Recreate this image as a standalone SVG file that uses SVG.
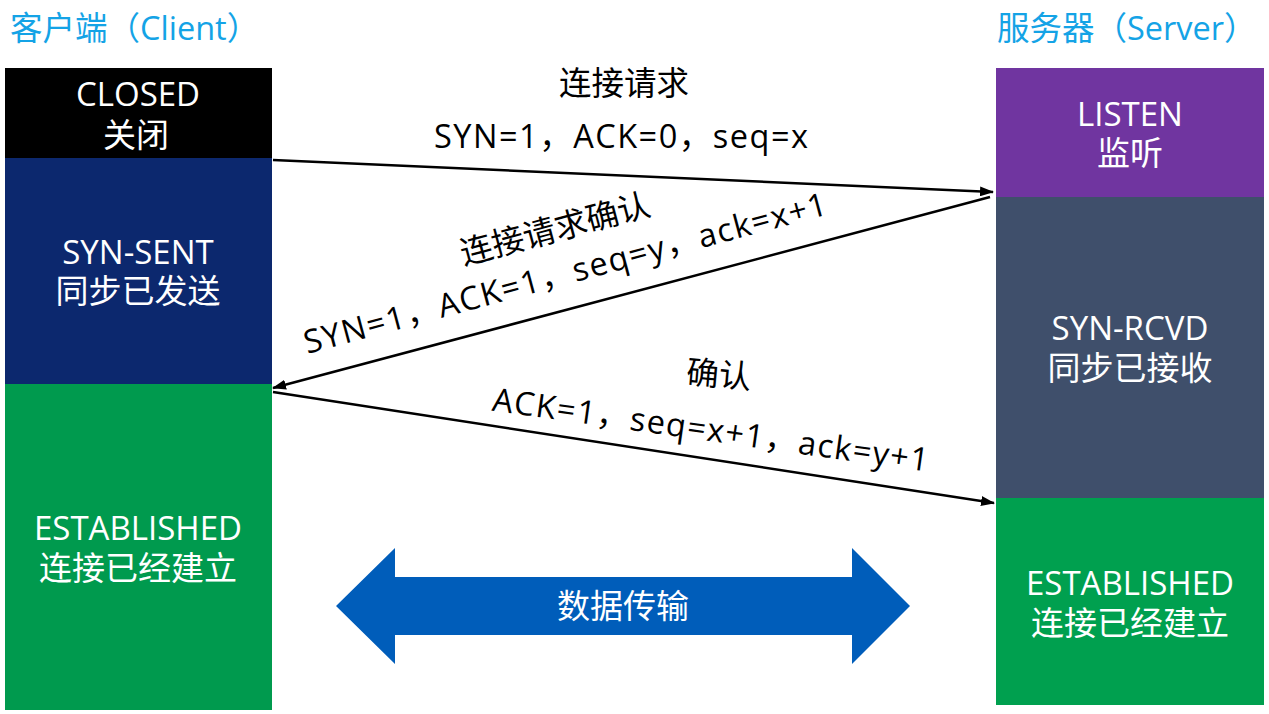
<svg xmlns="http://www.w3.org/2000/svg" width="1269" height="714" viewBox="0 0 1269 714">
<defs>
<style>
text{font-family:"Open Sans","Noto Sans CJK SC",sans-serif;}
.hdr{font-size:32.5px;fill:#14a3e6;}
.bt{font-size:33px;fill:#ffffff;text-anchor:middle;}
.lb{font-size:32.5px;fill:#000000;text-anchor:middle;}
.ln{stroke:#000;stroke-width:2.5;fill:none;}
</style>
<marker id="ah" viewBox="0 0 14 10" refX="13" refY="5" markerWidth="14" markerHeight="10" markerUnits="userSpaceOnUse" orient="auto">
<path d="M0,0 L14,5 L0,10 Z" fill="#000"/>
</marker>
</defs>
<rect width="1269" height="714" fill="#ffffff"/>
<g id="header-client"><text class="hdr" x="10" y="40">客户端（Client）</text></g>
<g id="header-server"><text class="hdr" x="997" y="40">服务器（Server）</text></g>

<g id="client-closed">
<rect x="5" y="68" width="267" height="90" fill="#000000"/>
<text class="bt" x="138" y="106">CLOSED</text>
<text class="bt" x="136" y="147">关闭</text>
</g>
<g id="client-synsent">
<rect x="5" y="158" width="267" height="226" fill="#0c286e"/>
<text class="bt" x="138" y="264">SYN-SENT</text>
<text class="bt" x="138" y="303">同步已发送</text>
</g>
<g id="client-established">
<rect x="5" y="384" width="267" height="326" fill="#009a4e"/>
<text class="bt" x="138" y="540">ESTABLISHED</text>
<text class="bt" x="138" y="580">连接已经建立</text>
</g>

<g id="server-listen">
<rect x="996" y="68" width="268" height="129" fill="#7035a0"/>
<text class="bt" x="1130" y="126">LISTEN</text>
<text class="bt" x="1130" y="165">监听</text>
</g>
<g id="server-synrcvd">
<rect x="996" y="197" width="268" height="301" fill="#3f4f6b"/>
<text class="bt" x="1130" y="340">SYN-RCVD</text>
<text class="bt" x="1130" y="380">同步已接收</text>
</g>
<g id="server-established">
<rect x="996" y="498" width="268" height="207" fill="#00a04f"/>
<text class="bt" x="1130" y="595">ESTABLISHED</text>
<text class="bt" x="1130" y="635">连接已经建立</text>
</g>

<g id="connectors">
<line class="ln" x1="273" y1="160" x2="993" y2="192" marker-end="url(#ah)"/>
<line class="ln" x1="990" y1="197" x2="273" y2="388" marker-end="url(#ah)"/>
<line class="ln" x1="273" y1="392" x2="994" y2="503" marker-end="url(#ah)"/>
<text class="lb" x="624" y="95">连接请求</text>
<text class="lb" x="621" y="148" textLength="374">SYN=1，ACK=0，seq=x</text>
<text class="lb" x="558" y="240" transform="rotate(-15 558 240)">连接请求确认</text>
<text class="lb" x="568" y="284" transform="rotate(-15 568 284)" textLength="540">SYN=1，ACK=1，seq=y，ack=x+1</text>
<text class="lb" x="718" y="386" transform="rotate(5 718 386)">确认</text>
<text class="lb" x="709" y="441" transform="rotate(8 709 441)" textLength="440">ACK=1，seq=x+1，ack=y+1</text>
</g>

<g id="data-transfer">
<polygon points="336,606 395,548 395,577 852,577 852,548 910,606 852,664 852,635 395,635 395,664" fill="#005dba"/>
<text class="bt" x="623" y="618" style="font-size:33px">数据传输</text>
</g>
</svg>
